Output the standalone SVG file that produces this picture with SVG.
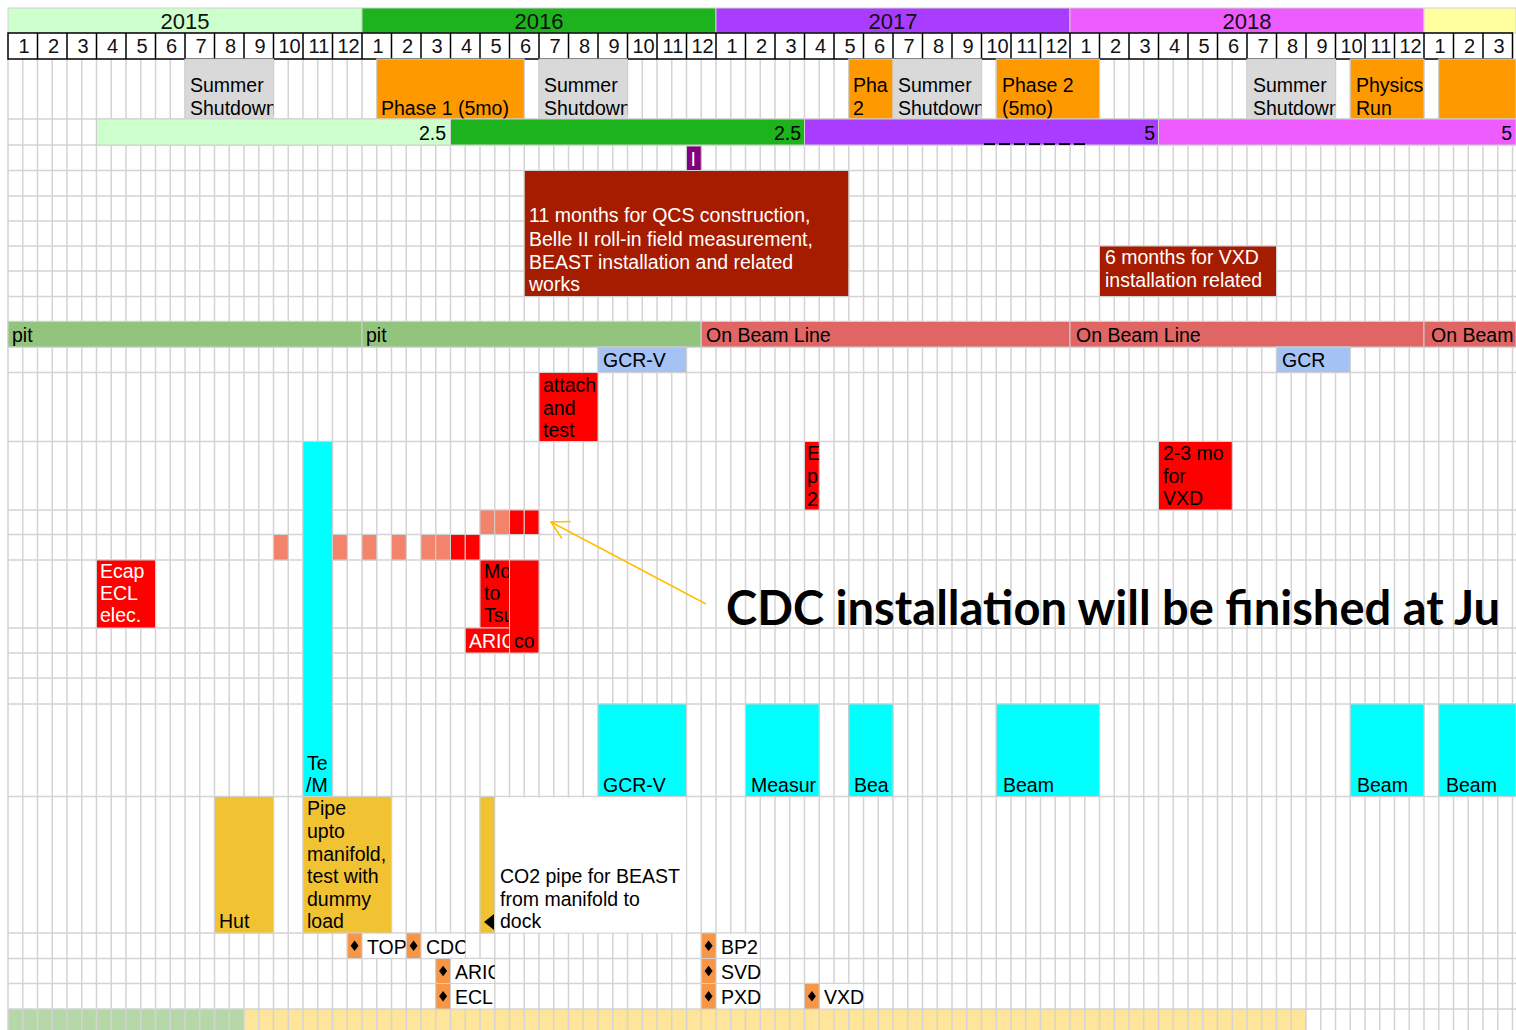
<svg xmlns="http://www.w3.org/2000/svg" width="1516" height="1030" viewBox="0 0 1516 1030">
<style>
.grid{stroke:#d4d4d4;stroke-width:1.5;fill:none}
.bx{stroke:#d0d0d0;stroke-width:1}
.t{font-family:"Liberation Sans",Arial,sans-serif;font-size:19.5px;fill:#000}
.w{fill:#fff}
.yr{font-family:"Liberation Sans",Arial,sans-serif;font-size:22px;fill:#111;text-anchor:middle}
.mo{font-family:"Liberation Sans",Arial,sans-serif;font-size:20px;fill:#111;text-anchor:middle}
.end{text-anchor:end}
.ms{fill:#f79646;stroke:#d0d0d0;stroke-width:1}
.dia{fill:#000}
</style>
<defs>
<marker id="openArrow" viewBox="0 0 20 20" refX="17.5" refY="10" markerWidth="20" markerHeight="20" markerUnits="userSpaceOnUse" orient="auto">
<path d="M0,0.3 L17.5,10 L0,19.7" fill="none" stroke="#ffc000" stroke-width="1.5"/>
</marker>
<clipPath id="c-ss15"><rect x="185" y="59" width="88.5" height="60"/></clipPath>
<clipPath id="c-ss16"><rect x="539" y="59" width="88.5" height="60"/></clipPath>
<clipPath id="c-ph2a"><rect x="848.75" y="59" width="44.25" height="60"/></clipPath>
<clipPath id="c-ss17"><rect x="893" y="59" width="88.5" height="60"/></clipPath>
<clipPath id="c-ss18"><rect x="1247" y="59" width="88.5" height="60"/></clipPath>
<clipPath id="c-att"><rect x="539" y="372.5" width="59" height="69"/></clipPath>
<clipPath id="c-ep2"><rect x="804.5" y="441.5" width="14.75" height="68.5"/></clipPath>
<clipPath id="c-te"><rect x="303" y="441.5" width="29.5" height="355"/></clipPath>
<clipPath id="c-mo"><rect x="480" y="560" width="29.5" height="68"/></clipPath>
<clipPath id="c-cor"><rect x="509.5" y="560" width="29.5" height="93"/></clipPath>
<clipPath id="c-aric"><rect x="465.25" y="628" width="44.25" height="25"/></clipPath>
<clipPath id="c-meas"><rect x="745.5" y="704" width="73.75" height="92.5"/></clipPath>
<clipPath id="c-bea"><rect x="848.75" y="704" width="44.25" height="92.5"/></clipPath>
<clipPath id="c-aric2"><rect x="450.5" y="958.5" width="44.25" height="25"/></clipPath>
<clipPath id="c-cdc"><rect x="421" y="933" width="44.25" height="25.5"/></clipPath>
<clipPath id="c-mon"><rect x="8" y="33" width="1504.5" height="26"/></clipPath>
</defs>

<rect x="0" y="0" width="1516" height="1030" fill="#fff"/>

<!-- bottom row fills (under grid) -->
<g id="bottom-row">
<rect x="8" y="1009" width="236" height="21" fill="#b6d7a8"/>
<rect x="244" y="1009" width="1062" height="21" fill="#ffe599"/>
</g>

<!-- grid -->
<g id="grid">
<path class="grid" d="M8 59V1030M22.75 59V1030M37.5 59V1030M52.25 59V1030M67 59V1030M81.75 59V1030M96.5 59V1030M111.25 59V1030M126 59V1030M140.75 59V1030M155.5 59V1030M170.25 59V1030M185 59V1030M199.75 59V1030M214.5 59V1030M229.25 59V1030M244 59V1030M258.75 59V1030M273.5 59V1030M288.25 59V1030M303 59V1030M317.75 59V1030M332.5 59V1030M347.25 59V1030M362 59V1030M376.75 59V1030M391.5 59V1030M406.25 59V1030M421 59V1030M435.75 59V1030M450.5 59V1030M465.25 59V1030M480 59V1030M494.75 59V1030M509.5 59V1030M524.25 59V1030M539 59V1030M553.75 59V1030M568.5 59V1030M583.25 59V1030M598 59V1030M612.75 59V1030M627.5 59V1030M642.25 59V1030M657 59V1030M671.75 59V1030M686.5 59V1030M701.25 59V1030M716 59V1030M730.75 59V1030M745.5 59V1030M760.25 59V1030M775 59V1030M789.75 59V1030M804.5 59V1030M819.25 59V1030M834 59V1030M848.75 59V1030M863.5 59V1030M878.25 59V1030M893 59V1030M907.75 59V1030M922.5 59V1030M937.25 59V1030M952 59V1030M966.75 59V1030M981.5 59V1030M996.25 59V1030M1011 59V1030M1025.75 59V1030M1040.5 59V1030M1055.25 59V1030M1070 59V1030M1084.75 59V1030M1099.5 59V1030M1114.25 59V1030M1129 59V1030M1143.75 59V1030M1158.5 59V1030M1173.25 59V1030M1188 59V1030M1202.75 59V1030M1217.5 59V1030M1232.25 59V1030M1247 59V1030M1261.75 59V1030M1276.5 59V1030M1291.25 59V1030M1306 59V1030M1320.75 59V1030M1335.5 59V1030M1350.25 59V1030M1365 59V1030M1379.75 59V1030M1394.5 59V1030M1409.25 59V1030M1424 59V1030M1438.75 59V1030M1453.5 59V1030M1468.25 59V1030M1483 59V1030M1497.75 59V1030M1512.5 59V1030"/>
<path class="grid" d="M8 119H1516M8 145H1516M8 170.5H1516M8 196H1516M8 221H1516M8 246H1516M8 271H1516M8 296.5H1516M8 321.5H1516M8 347H1516M8 372.5H1516M8 441.5H1516M8 510H1516M8 534.5H1516M8 560H1516M8 628H1516M8 653H1516M8 678H1516M8 704H1516M8 796.5H1516M8 933H1516M8 958.5H1516M8 983.5H1516M8 1009H1516"/>
</g>

<!-- header: years -->
<g id="years">
<rect x="8" y="8" width="354" height="25" fill="#ccffcc" class="bx"/>
<rect x="362" y="8" width="354" height="25" fill="#1db31d" class="bx"/>
<rect x="716" y="8" width="354" height="25" fill="#a93cff" class="bx"/>
<rect x="1070" y="8" width="354" height="25" fill="#ee5bff" class="bx"/>
<rect x="1424" y="8" width="92" height="25" fill="#ffffa0" class="bx"/>
<text class="yr" x="185" y="29">2015</text>
<text class="yr" x="539" y="29">2016</text>
<text class="yr" x="893" y="29">2017</text>
<text class="yr" x="1247" y="29">2018</text>
</g>

<!-- header: months -->
<g id="months">
<rect x="8" y="33" width="1504.5" height="26" fill="#fff" stroke="#000" stroke-width="1.5"/>
<path stroke="#000" stroke-width="1.5" d="M37.5 33V59M67 33V59M96.5 33V59M126 33V59M155.5 33V59M185 33V59M214.5 33V59M244 33V59M273.5 33V59M303 33V59M332.5 33V59M362 33V59M391.5 33V59M421 33V59M450.5 33V59M480 33V59M509.5 33V59M539 33V59M568.5 33V59M598 33V59M627.5 33V59M657 33V59M686.5 33V59M716 33V59M745.5 33V59M775 33V59M804.5 33V59M834 33V59M863.5 33V59M893 33V59M922.5 33V59M952 33V59M981.5 33V59M1011 33V59M1040.5 33V59M1070 33V59M1099.5 33V59M1129 33V59M1158.5 33V59M1188 33V59M1217.5 33V59M1247 33V59M1276.5 33V59M1306 33V59M1335.5 33V59M1365 33V59M1394.5 33V59M1424 33V59M1453.5 33V59M1483 33V59"/>
<g clip-path="url(#c-mon)">
<text class="mo" x="24" y="53">1</text><text class="mo" x="53.5" y="53">2</text><text class="mo" x="83" y="53">3</text><text class="mo" x="112.5" y="53">4</text><text class="mo" x="142" y="53">5</text><text class="mo" x="171.5" y="53">6</text><text class="mo" x="201" y="53">7</text><text class="mo" x="230.5" y="53">8</text><text class="mo" x="260" y="53">9</text><text class="mo" x="289.5" y="53">10</text><text class="mo" x="319" y="53">11</text><text class="mo" x="348.5" y="53">12</text>
<text class="mo" x="378" y="53">1</text><text class="mo" x="407.5" y="53">2</text><text class="mo" x="437" y="53">3</text><text class="mo" x="466.5" y="53">4</text><text class="mo" x="496" y="53">5</text><text class="mo" x="525.5" y="53">6</text><text class="mo" x="555" y="53">7</text><text class="mo" x="584.5" y="53">8</text><text class="mo" x="614" y="53">9</text><text class="mo" x="643.5" y="53">10</text><text class="mo" x="673" y="53">11</text><text class="mo" x="702.5" y="53">12</text>
<text class="mo" x="732" y="53">1</text><text class="mo" x="761.5" y="53">2</text><text class="mo" x="791" y="53">3</text><text class="mo" x="820.5" y="53">4</text><text class="mo" x="850" y="53">5</text><text class="mo" x="879.5" y="53">6</text><text class="mo" x="909" y="53">7</text><text class="mo" x="938.5" y="53">8</text><text class="mo" x="968" y="53">9</text><text class="mo" x="997.5" y="53">10</text><text class="mo" x="1027" y="53">11</text><text class="mo" x="1056.5" y="53">12</text>
<text class="mo" x="1086" y="53">1</text><text class="mo" x="1115.5" y="53">2</text><text class="mo" x="1145" y="53">3</text><text class="mo" x="1174.5" y="53">4</text><text class="mo" x="1204" y="53">5</text><text class="mo" x="1233.5" y="53">6</text><text class="mo" x="1263" y="53">7</text><text class="mo" x="1292.5" y="53">8</text><text class="mo" x="1322" y="53">9</text><text class="mo" x="1351.5" y="53">10</text><text class="mo" x="1381" y="53">11</text><text class="mo" x="1410.5" y="53">12</text>
<text class="mo" x="1440" y="53">1</text><text class="mo" x="1469.5" y="53">2</text><text class="mo" x="1499" y="53">3</text>
</g>
</g>

<!-- R1: shutdowns / phases -->
<g id="ss-2015"><rect class="bx" x="185" y="59" width="88.5" height="60" fill="#d9d9d9"/><g clip-path="url(#c-ss15)"><text class="t" x="190" y="92">Summer</text><text class="t" x="190" y="115">Shutdown</text></g></g>
<g id="phase1"><rect class="bx" x="376.75" y="59" width="147.5" height="60" fill="#ff9900"/><text class="t" x="381" y="115">Phase 1 (5mo)</text></g>
<g id="ss-2016"><rect class="bx" x="539" y="59" width="88.5" height="60" fill="#d9d9d9"/><g clip-path="url(#c-ss16)"><text class="t" x="544" y="92">Summer</text><text class="t" x="544" y="115">Shutdown</text></g></g>
<g id="phase2a"><rect class="bx" x="848.75" y="59" width="44.25" height="60" fill="#ff9900"/><g clip-path="url(#c-ph2a)"><text class="t" x="853" y="92">Pha</text><text class="t" x="853" y="115">2</text></g></g>
<g id="ss-2017"><rect class="bx" x="893" y="59" width="88.5" height="60" fill="#d9d9d9"/><g clip-path="url(#c-ss17)"><text class="t" x="898" y="92">Summer</text><text class="t" x="898" y="115">Shutdown</text></g></g>
<g id="phase2b"><rect class="bx" x="996.25" y="59" width="103.25" height="60" fill="#ff9900"/><text class="t" x="1002" y="92">Phase 2</text><text class="t" x="1002" y="115">(5mo)</text></g>
<g id="ss-2018"><rect class="bx" x="1247" y="59" width="88.5" height="60" fill="#d9d9d9"/><g clip-path="url(#c-ss18)"><text class="t" x="1253" y="92">Summer</text><text class="t" x="1253" y="115">Shutdown</text></g></g>
<g id="physics"><rect class="bx" x="1350.25" y="59" width="73.75" height="60" fill="#ff9900"/><text class="t" x="1356" y="92">Physics</text><text class="t" x="1356" y="115">Run</text></g>
<g id="phase-2019"><rect class="bx" x="1438.75" y="59" width="77.25" height="60" fill="#ff9900"/></g>

<!-- R2: luminosity bars -->
<g id="lumi-2015"><rect class="bx" x="96.5" y="119" width="354" height="26" fill="#ccffcc"/><text class="t end" x="446" y="140">2.5</text></g>
<g id="lumi-2016"><rect class="bx" x="450.5" y="119" width="354" height="26" fill="#1db31d"/><text class="t end" x="801" y="140">2.5</text></g>
<g id="lumi-2017"><rect class="bx" x="804.5" y="119" width="354" height="26" fill="#a93cff"/><text class="t end" x="1155" y="140">5</text>
<line x1="984" y1="144" x2="1087" y2="144" stroke="#000" stroke-width="2" stroke-dasharray="11 4"/></g>
<g id="lumi-2018"><rect class="bx" x="1158.5" y="119" width="357.5" height="26" fill="#ee5bff"/><text class="t end" x="1512" y="140">5</text></g>

<g id="mark-purple"><rect class="bx" x="686.5" y="146" width="14.75" height="24.5" fill="#800080"/><text class="t w" x="690.5" y="166">I</text></g>

<g id="qcs"><rect class="bx" x="524.25" y="170.5" width="324.5" height="126" fill="#a61c00"/>
<text class="t w" x="529" y="222">11 months for QCS construction,</text>
<text class="t w" x="529" y="246">Belle II roll-in field measurement,</text>
<text class="t w" x="529" y="269">BEAST installation and related</text>
<text class="t w" x="529" y="291">works</text></g>
<g id="vxd-6mo"><rect class="bx" x="1099.5" y="246" width="177" height="50.5" fill="#a61c00"/>
<text class="t w" x="1105" y="264">6 months for VXD</text>
<text class="t w" x="1105" y="287">installation related</text></g>

<!-- location row -->
<g id="pit-1"><rect class="bx" x="8" y="321.5" width="354" height="25.5" fill="#93c47d"/><text class="t" x="12" y="342">pit</text></g>
<g id="pit-2"><rect class="bx" x="362" y="321.5" width="339.25" height="25.5" fill="#93c47d"/><text class="t" x="366" y="342">pit</text></g>
<g id="beamline-1"><rect class="bx" x="701.25" y="321.5" width="368.75" height="25.5" fill="#e06666"/><text class="t" x="706" y="342">On Beam Line</text></g>
<g id="beamline-2"><rect class="bx" x="1070" y="321.5" width="354" height="25.5" fill="#e06666"/><text class="t" x="1076" y="342">On Beam Line</text></g>
<g id="beamline-3"><rect class="bx" x="1424" y="321.5" width="92" height="25.5" fill="#e06666"/><text class="t" x="1431" y="342">On Beam</text></g>

<g id="gcrv-1"><rect class="bx" x="598" y="347" width="88.5" height="25.5" fill="#a4c2f4"/><text class="t" x="603" y="367">GCR-V</text></g>
<g id="gcr-2"><rect class="bx" x="1276.5" y="347" width="73.75" height="25.5" fill="#a4c2f4"/><text class="t" x="1282" y="367">GCR</text></g>

<g id="attach"><rect class="bx" x="539" y="372.5" width="59" height="69" fill="#ff0000"/><g clip-path="url(#c-att)"><text class="t" x="543" y="392">attach</text><text class="t" x="543" y="415">and</text><text class="t" x="543" y="437">test</text></g></g>

<g id="ep2"><rect class="bx" x="804.5" y="441.5" width="14.75" height="68.5" fill="#ff0000"/><g clip-path="url(#c-ep2)"><text class="t" x="807" y="460">E</text><text class="t" x="807" y="483">p</text><text class="t" x="807" y="506">2</text></g></g>
<g id="vxd-23mo"><rect class="bx" x="1158.5" y="441.5" width="73.75" height="68.5" fill="#ff0000"/><text class="t" x="1163" y="460">2-3 mo</text><text class="t" x="1163" y="483">for</text><text class="t" x="1163" y="505">VXD</text></g>

<g id="test-bar"><rect class="bx" x="303" y="441.5" width="29.5" height="355" fill="#00ffff"/><g clip-path="url(#c-te)"><text class="t" x="307" y="770">Te</text><text class="t" x="306" y="792">/M</text></g></g>

<!-- CDC installation squares -->
<g id="cdc-squares">
<rect class="bx" x="273.5" y="534.5" width="14.75" height="25.5" fill="#f3836b"/>
<rect class="bx" x="332.5" y="534.5" width="14.75" height="25.5" fill="#f3836b"/>
<rect class="bx" x="362" y="534.5" width="14.75" height="25.5" fill="#f3836b"/>
<rect class="bx" x="391.5" y="534.5" width="14.75" height="25.5" fill="#f3836b"/>
<rect class="bx" x="421" y="534.5" width="14.75" height="25.5" fill="#f3836b"/>
<rect class="bx" x="435.75" y="534.5" width="14.75" height="25.5" fill="#f3836b"/>
<rect class="bx" x="450.5" y="534.5" width="14.75" height="25.5" fill="#ff0000"/>
<rect class="bx" x="465.25" y="534.5" width="14.75" height="25.5" fill="#ff0000"/>
<rect class="bx" x="480" y="510" width="14.75" height="24.5" fill="#f3836b"/>
<rect class="bx" x="494.75" y="510" width="14.75" height="24.5" fill="#f3836b"/>
<rect class="bx" x="509.5" y="510" width="14.75" height="24.5" fill="#ff0000"/>
<rect class="bx" x="524.25" y="510" width="14.75" height="24.5" fill="#ff0000"/>
</g>

<g id="ecap"><rect class="bx" x="96.5" y="560" width="59" height="68" fill="#ff0000"/><text class="t w" x="100" y="578">Ecap</text><text class="t w" x="100" y="600">ECL</text><text class="t w" x="100" y="622">elec.</text></g>
<g id="move"><rect class="bx" x="480" y="560" width="29.5" height="68" fill="#ff0000"/><g clip-path="url(#c-mo)"><text class="t" x="484" y="578">Mo</text><text class="t" x="484" y="600">to</text><text class="t" x="484" y="622">Tsu</text></g></g>
<g id="cosmic"><rect class="bx" x="509.5" y="560" width="29.5" height="93" fill="#ff0000"/><g clip-path="url(#c-cor)"><text class="t" x="514" y="648">co</text></g></g>
<g id="arich-box"><rect class="bx" x="465.25" y="628" width="44.25" height="25" fill="#ff0000"/><g clip-path="url(#c-aric)"><text class="t w" x="469" y="648">ARIC</text></g></g>

<!-- beam / measurement row -->
<g id="gcrv-2"><rect class="bx" x="598" y="704" width="88.5" height="92.5" fill="#00ffff"/><text class="t" x="603" y="792">GCR-V</text></g>
<g id="measure"><rect class="bx" x="745.5" y="704" width="73.75" height="92.5" fill="#00ffff"/><g clip-path="url(#c-meas)"><text class="t" x="751" y="792">Measur</text></g></g>
<g id="beam-1"><rect class="bx" x="848.75" y="704" width="44.25" height="92.5" fill="#00ffff"/><g clip-path="url(#c-bea)"><text class="t" x="854" y="792">Bea</text></g></g>
<g id="beam-2"><rect class="bx" x="996.25" y="704" width="103.25" height="92.5" fill="#00ffff"/><text class="t" x="1003" y="792">Beam</text></g>
<g id="beam-3"><rect class="bx" x="1350.25" y="704" width="73.75" height="92.5" fill="#00ffff"/><text class="t" x="1357" y="792">Beam</text></g>
<g id="beam-4"><rect class="bx" x="1438.75" y="704" width="77.25" height="92.5" fill="#00ffff"/><text class="t" x="1446" y="792">Beam</text></g>

<!-- CO2 / hut row -->
<g id="hut"><rect class="bx" x="214.5" y="796.5" width="59" height="136.5" fill="#f1c232"/><text class="t" x="219" y="928">Hut</text></g>
<g id="pipe"><rect class="bx" x="303" y="796.5" width="88.5" height="136.5" fill="#f1c232"/>
<text class="t" x="307" y="815">Pipe</text><text class="t" x="307" y="838">upto</text><text class="t" x="307" y="861">manifold,</text><text class="t" x="307" y="883">test with</text><text class="t" x="307" y="906">dummy</text><text class="t" x="307" y="928">load</text></g>
<g id="co2-pipe"><rect class="bx" x="480" y="796.5" width="14.75" height="136.5" fill="#f1c232"/>
<polygon points="484,922 494,914 494,930" fill="#000"/>
<rect x="495.5" y="797.5" width="190.5" height="135" fill="#fff"/>
<text class="t" x="500" y="883">CO2 pipe for BEAST</text><text class="t" x="500" y="906">from manifold to</text><text class="t" x="500" y="928">dock</text></g>

<!-- milestones -->
<g id="ms-top"><rect class="ms" x="347.25" y="933" width="14.75" height="25.5"/><path class="dia" d="M354.6 940.5L358.6 945.7L354.6 950.9L350.6 945.7Z"/><rect x="362.75" y="933.75" width="42.75" height="24" fill="#fff"/><text class="t" x="367" y="954">TOP</text></g>
<g id="ms-cdc"><rect class="ms" x="406.25" y="933" width="14.75" height="25.5"/><path class="dia" d="M413.6 940.5L417.6 945.7L413.6 950.9L409.6 945.7Z"/><rect x="421.75" y="933.75" width="42.75" height="24" fill="#fff"/><g clip-path="url(#c-cdc)"><text class="t" x="426" y="954">CDC</text></g></g>
<g id="ms-arich"><rect class="ms" x="435.75" y="958.5" width="14.75" height="25"/><path class="dia" d="M443.1 965.8L447.1 971L443.1 976.2L439.1 971Z"/><rect x="451.25" y="959.25" width="42.75" height="23.5" fill="#fff"/><g clip-path="url(#c-aric2)"><text class="t" x="455" y="979">ARIC</text></g></g>
<g id="ms-ecl"><rect class="ms" x="435.75" y="983.5" width="14.75" height="25.5"/><path class="dia" d="M443.1 991L447.1 996.2L443.1 1001.4L439.1 996.2Z"/><rect x="451.25" y="984.25" width="42.75" height="24" fill="#fff"/><text class="t" x="455" y="1004">ECL</text></g>
<g id="ms-bp2"><rect class="ms" x="701.25" y="933" width="14.75" height="25.5"/><path class="dia" d="M708.6 940.5L712.6 945.7L708.6 950.9L704.6 945.7Z"/><rect x="716.75" y="933.75" width="42.75" height="24" fill="#fff"/><text class="t" x="721" y="954">BP2</text></g>
<g id="ms-svd"><rect class="ms" x="701.25" y="958.5" width="14.75" height="25"/><path class="dia" d="M708.6 965.8L712.6 971L708.6 976.2L704.6 971Z"/><rect x="716.75" y="959.25" width="42.75" height="23.5" fill="#fff"/><text class="t" x="721" y="979">SVD</text></g>
<g id="ms-pxd"><rect class="ms" x="701.25" y="983.5" width="14.75" height="25.5"/><path class="dia" d="M708.6 991L712.6 996.2L708.6 1001.4L704.6 996.2Z"/><rect x="716.75" y="984.25" width="42.75" height="24" fill="#fff"/><text class="t" x="721" y="1004">PXD</text></g>
<g id="ms-vxd"><rect class="ms" x="804.5" y="983.5" width="14.75" height="25.5"/><path class="dia" d="M811.9 991L815.9 996.2L811.9 1001.4L807.9 996.2Z"/><rect x="820" y="984.25" width="42.75" height="24" fill="#fff"/><text class="t" x="824" y="1004">VXD</text></g>

<!-- callout -->
<g id="callout">
<text x="726" y="625" font-family="Lato,'Open Sans',sans-serif" font-weight="bold" font-size="48" fill="#000" textLength="774" lengthAdjust="spacingAndGlyphs">CDC installation will be finished at Ju</text>
</g>

<!-- connectors -->
<g id="connectors">
<line x1="706" y1="604" x2="551" y2="522" stroke="#ffc000" stroke-width="1.5" marker-end="url(#openArrow)"/>
</g>
</svg>
